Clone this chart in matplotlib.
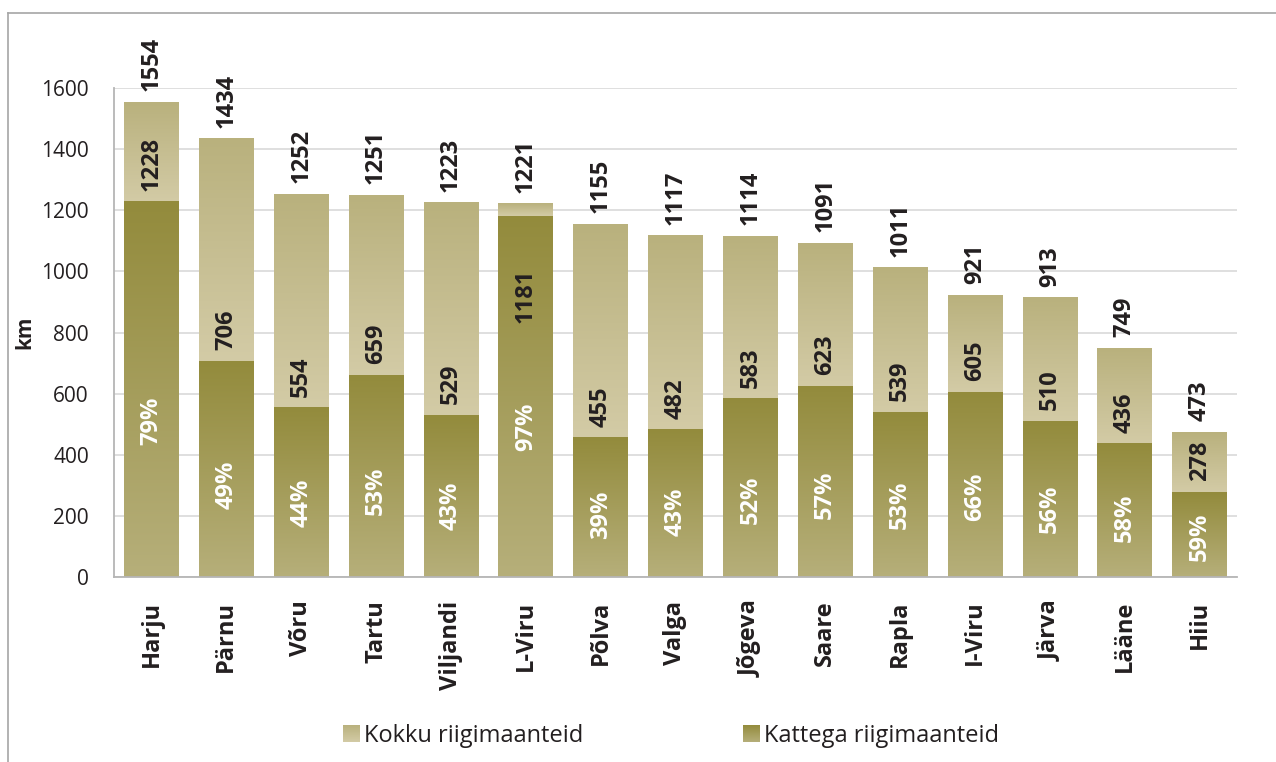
import matplotlib
matplotlib.use("Agg")
import matplotlib.pyplot as plt
from matplotlib.colors import LinearSegmentedColormap
from matplotlib.lines import Line2D
import numpy as np

# Dati
maakonnad = ["Harju", "Pärnu", "Võru", "Tartu", "Viljandi", "L-Viru", "Põlva", "Valga",
             "Jõgeva", "Saare", "Rapla", "I-Viru", "Järva", "Lääne", "Hiiu"]
kokku = [1554, 1434, 1252, 1251, 1223, 1221, 1155, 1117, 1114, 1091, 1011, 921, 913, 749, 473]
kattega = [1228, 706, 554, 659, 529, 1181, 455, 482, 583, 623, 539, 605, 510, 436, 278]
protsent = [79, 49, 44, 53, 43, 97, 39, 43, 52, 57, 53, 66, 56, 58, 59]
legenda = ["Kokku riigimaanteid", "Kattega riigimaanteid"]

plt.rcParams['font.family'] = ['Open Sans', 'DejaVu Sans']

W, H = 1276, 762

# colori (gradiente dall'alto verso il basso)
cmap_kokku = LinearSegmentedColormap.from_list("kokku", ["#b9b17d", "#d3cba6"])
cmap_kattega = LinearSegmentedColormap.from_list("kattega", ["#938b3c", "#b6af7a"])
grad = np.linspace(0, 1, 256).reshape(-1, 1)

fig = plt.figure(figsize=(W / 100, H / 100), dpi=100)
ax = fig.add_axes([114 / W, 1 - 577 / H, (1237 - 114) / W, (577 - 88) / H])

width = 0.73
x = np.arange(len(maakonnad))
testo = '#231f20'

for i in x:
    x0, x1 = i - width / 2, i + width / 2
    # parte superiore (totale)
    ax.imshow(grad, cmap=cmap_kokku, aspect='auto', origin='upper',
              extent=[x0, x1, kattega[i], kokku[i]], zorder=2, interpolation='bilinear')
    # parte inferiore (con copertura)
    ax.imshow(grad, cmap=cmap_kattega, aspect='auto', origin='upper',
              extent=[x0, x1, 0, kattega[i]], zorder=2, interpolation='bilinear')

    ax.annotate(str(kokku[i]), (i, kokku[i]), xytext=(0, 8), textcoords='offset points',
                rotation=90, ha='center', va='bottom', fontsize=17, fontweight='bold',
                color=testo)
    if kokku[i] - kattega[i] > 150:
        ax.annotate(str(kattega[i]), (i, kattega[i]), xytext=(0, 8), textcoords='offset points',
                    rotation=90, ha='center', va='bottom', fontsize=17, fontweight='bold',
                    color=testo, zorder=5)
    else:
        # poco spazio: etichetta dentro la barra
        ax.annotate(str(kattega[i]), (i, kattega[i]), xytext=(0, -38), textcoords='offset points',
                    rotation=90, ha='center', va='top', fontsize=17, fontweight='bold',
                    color=testo, zorder=5)
    ax.text(i, 0.4 * kattega[i] + 20, f"{protsent[i]}%", rotation=90, ha='center',
            va='center', fontsize=17, fontweight='bold', color='white', zorder=5)

ax.set_xlim(-0.5, len(maakonnad) - 0.5)
ax.set_ylim(0, 1600)
ax.set_yticks(np.arange(0, 1601, 200))
ax.yaxis.grid(True, color='#d9d9d9', linewidth=1.2)
ax.set_axisbelow(True)

ax.set_xticks(x)
ax.set_xticklabels(maakonnad, rotation=90, fontsize=17, fontweight='bold', color=testo)
ax.tick_params(axis='x', length=0, pad=17)
ax.tick_params(axis='y', length=0, pad=18, labelsize=15, labelcolor=testo)

for s in ['top', 'right']:
    ax.spines[s].set_visible(False)
for s in ['left', 'bottom']:
    ax.spines[s].set_color('#b5b5b5')
    ax.spines[s].set_linewidth(1.3)

ax.set_ylabel('km', fontsize=15, fontweight='bold', color=testo)
ax.yaxis.set_label_coords(-0.07, 0.5)

# legenda (quadratini con gradiente)
leg_x = [343, 743]
for lx, nome, cm in zip(leg_x, legenda, [cmap_kokku, cmap_kattega]):
    lax = fig.add_axes([lx / W, 20 / H, 17 / W, 17 / H])
    lax.imshow(grad, cmap=cm, aspect='auto', interpolation='bilinear')
    lax.axis('off')
    fig.text((lx + 21) / W, 20 / H, nome, fontsize=17, color=testo, va='baseline', ha='left')

# bordo figura
fig.add_artist(Line2D([8 / W, 8 / W], [0, 1 - 13 / H], color='#a6a6a6', lw=1.2,
                      transform=fig.transFigure))
fig.add_artist(Line2D([8 / W, 1], [1 - 13 / H, 1 - 13 / H], color='#a6a6a6', lw=1.2,
                      transform=fig.transFigure))

fig.savefig("out.png", dpi=100)
